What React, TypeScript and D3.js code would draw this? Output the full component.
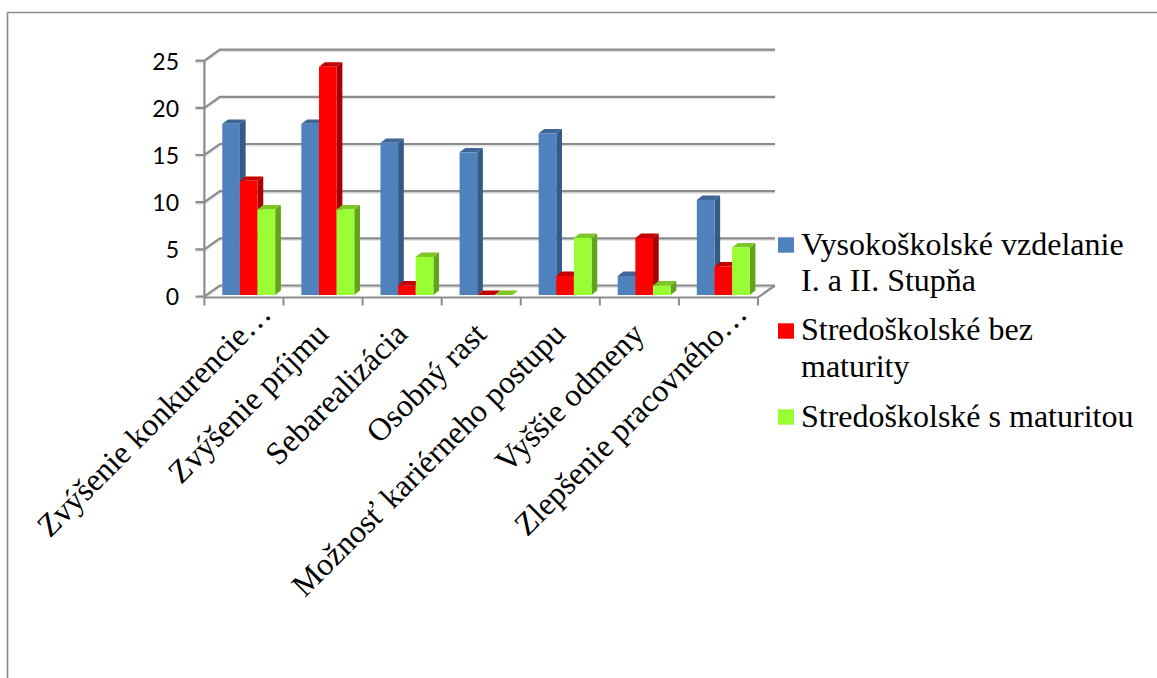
import React from "react";
import * as d3 from "d3";

const categories = [
  "Zvýšenie konkurencie…",
  "Zvýšenie príjmu",
  "Sebarealizácia",
  "Osobný rast",
  "Možnosť kariérneho postupu",
  "Vyššie odmeny",
  "Zlepšenie pracovného…",
];
const higherEducation = [18, 18, 16, 15, 17, 2, 10];
const withoutDiploma = [12, 24, 1, 0, 2, 6, 3];
const withDiploma = [9, 9, 4, 0, 6, 1, 5];
const yTicks = [0, 5, 10, 15, 20, 25];
const legendLines = [
  ["Vysokoškolské vzdelanie", "I. a II. Stupňa"],
  ["Stredoškolské bez", "maturity"],
  ["Stredoškolské s maturitou"],
];

const front = ["#4f81bd", "#ff0000", "#99ff33"];
const top = ["#3d6696", "#c40000", "#7cc626"];
const side = ["#345a88", "#a80000", "#62a31c"];
const gray = "#8c8c8c";
const halo = "#e2e2e2";

const W = 1157;
const H = 678;
const depthX = 15.5;
const depthY = -11;
const barDX = 5.7;
const barDY = -4.4;

// Where each slanted label's baseline finishes; the ellipsised ones sit higher.
const labelEnds: [number, number][] = [
  [273, 315.5],
  [330, 336],
  [409, 336],
  [488, 336],
  [567, 336],
  [646, 336],
  [749, 315.5],
];
const legendBaselines = [254.5, 340, 426.7];
const legendSwatches = [237.3, 323.3, 409.3];

export default function App() {
  const values = [higherEducation, withoutDiploma, withDiploma];
  const y = d3.scaleLinear().domain([0, 25]).range([296.5, 60.7]);
  const barY = d3.scaleLinear().domain([0, 25]).range([295, 57.2]);
  const x = d3.scaleBand<number>().domain(d3.range(categories.length)).range([204.4, 758]);
  const sub = d3.scaleBand<number>().domain([0, 1, 2]).range([0, 52.9]);
  const pad = 17.9;
  const gridPath = (t: number) =>
    `M195.5,${y(t)}H204.4L${204.4 + depthX},${y(t) + depthY}H775`;

  return (
    <svg
      width={W}
      height={H}
      style={{ position: "absolute", left: 0, top: 0, background: "#fff" }}
    >
      <path d={`M7.5,678V12.5H1157`} fill="none" stroke="#8a8a8a" strokeWidth={1.6} />

      {/* walls: gridlines and their slant toward the value axis */}
      {yTicks.map((t) => (
        <path key={`h${t}`} d={gridPath(t)} transform="translate(0,1)" stroke={halo} strokeWidth={3} fill="none" />
      ))}
      {yTicks.map((t) => (
        <path key={t} d={gridPath(t)} stroke={gray} strokeWidth={2.2} fill="none" />
      ))}
      <path d={`M204.4,${y(25)}V${y(0)}`} stroke={gray} strokeWidth={2.2} />
      <path
        d={`M204.4,${y(0) + 1}H758L775,${y(0) + depthY}`}
        stroke={gray}
        strokeWidth={2.2}
        fill="none"
      />
      {d3.range(categories.length + 1).map((i) => {
        const tx = 204.4 + i * x.step();
        return <path key={i} d={`M${tx},${y(0) + 1}V${y(0) + 9}`} stroke={gray} strokeWidth={2} />;
      })}

      {/* value labels */}
      {yTicks.map((t) => (
        <text
          key={t}
          x={179}
          y={y(t) + 8.8}
          textAnchor="end"
          fontFamily="Lato"
          fontSize={23}
          fill="#000"
        >
          {t}
        </text>
      ))}

      {/* three-sided columns */}
      {categories.map((_, c) =>
        [0, 1, 2].map((s) => {
          const v = values[s][c];
          const x0 = (x(c) as number) + pad + (sub(s) as number);
          const x1 = x0 + sub.bandwidth();
          const yt = barY(v);
          const yb = barY(0);
          return (
            <g key={`${c}-${s}`}>
              <path
                d={`M${x1},${yt}l${barDX},${barDY}V${yb + barDY}L${x1},${yb}Z`}
                fill={side[s]}
              />
              <path
                d={`M${x0},${yt}l${barDX},${barDY}H${x1 + barDX}L${x1},${yt}Z`}
                fill={top[s]}
              />
              <rect x={x0} y={yt} width={x1 - x0} height={Math.max(yb - yt, 0)} fill={front[s]} />
            </g>
          );
        })
      )}

      {/* slanted category labels */}
      {categories.map((name, c) => (
        <text
          key={name}
          transform={`translate(${labelEnds[c][0]},${labelEnds[c][1]}) rotate(-45)`}
          textAnchor="end"
          fontFamily="Liberation Serif"
          fontSize={32}
          fill="#000"
        >
          {name}
        </text>
      ))}

      {/* legend */}
      {legendLines.map((lines, i) => (
        <g key={i}>
          <rect x={778} y={legendSwatches[i]} width={16} height={15.4} fill={front[i]} />
          {lines.map((l, j) => (
            <text
              key={l}
              x={801}
              y={legendBaselines[i] + j * 36.5}
              fontFamily="Liberation Serif"
              fontSize={32}
              fill="#000"
            >
              {l}
            </text>
          ))}
        </g>
      ))}
    </svg>
  );
}
